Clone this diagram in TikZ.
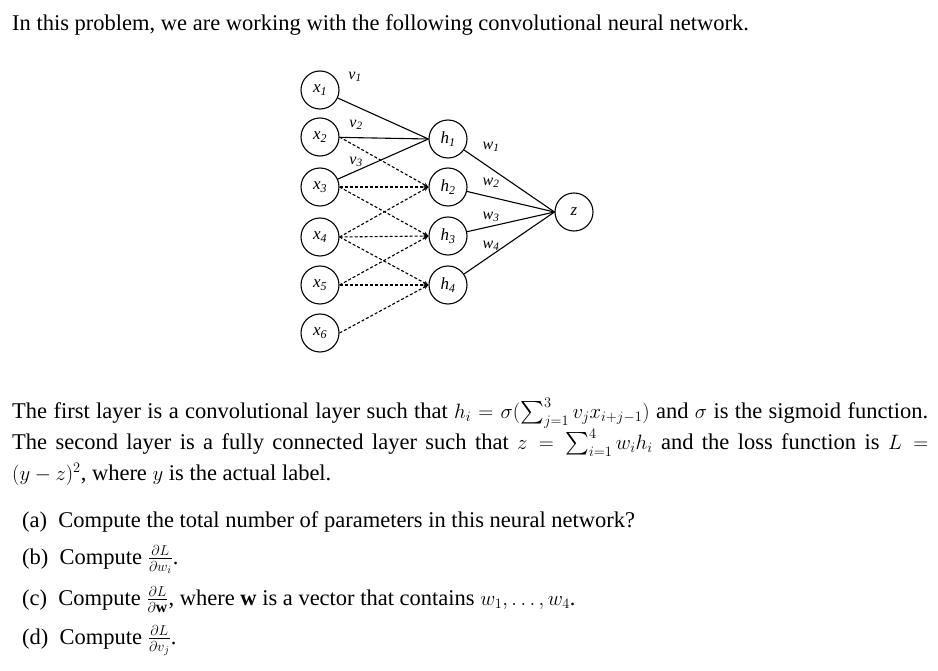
\documentclass[tikz,border=0pt]{standalone}
\usepackage{amsmath,amssymb}
\usepackage{fontspec}
\setmainfont{Liberation Serif}
\usetikzlibrary{arrows.meta}

\begin{document}
\begin{tikzpicture}[x=1pt,y=-1pt,>={Stealth[length=5pt,width=4pt]},
    unit/.style={circle,draw,line width=1.1pt,minimum size=38pt,inner sep=0pt,font=\fontsize{17}{17}\selectfont\itshape},
    wlab/.style={font=\fontsize{16}{16}\selectfont\itshape},
    conv/.style={->,line width=1.1pt,dash pattern=on 3pt off 2pt},
    line/.style={font=\fontsize{22.5}{27}\selectfont,anchor=base west,inner sep=0pt}]
        % frame
        \useasboundingbox (0,0) rectangle (938,671);
        % layers
        \foreach \i/\y in {1/90,2/137,3/187,4/237,5/285,6/333}
        \node[unit] (x\i) at (320,\y) {x\textsubscript{\i}};
        \foreach \i/\y in {1/139,2/187,3/236,4/285}
        \node[unit] (h\i) at (448,\y) {h\textsubscript{\i}};
        \node[unit] (z) at (574,212) {z};
        % first layer
        \foreach \j in {1,2,3} \draw[line width=1.1pt] (x\j) -- (h1.west);
        \foreach \i in {2,3,4} \foreach \j in {0,1,2}
        {\pgfmathtruncatemacro{\k}{\i+\j}
         \draw[conv] (x\k.east) -- (h\i.west);}
        % second layer
        \foreach \i in {1,2,3,4} \draw[line width=1.1pt] (h\i) -- (z.west);
        \draw   (355,77) node[wlab] {v\textsubscript{1}}
                (356,125) node[wlab] {v\textsubscript{2}}
                (356,162) node[wlab] {v\textsubscript{3}}
                (491,147) node[wlab] {w\textsubscript{1}}
                (491,183) node[wlab] {w\textsubscript{2}}
                (491,217) node[wlab] {w\textsubscript{3}}
                (491,246) node[wlab] {w\textsubscript{4}};
        % text
        \node[line] (intro) at (12,31) {In this problem, we are working with the following convolutional neural network.};
        \node[font=\fontsize{22.5}{31}\selectfont,anchor=north west,inner sep=0pt,text width=916pt,align=justify] (para) at (12,398)
          {The first layer is a convolutional layer such that $h_i=\sigma(\sum_{j=1}^{3}v_jx_{i+j-1})$ and $\sigma$ is the sigmoid function.\linebreak
           The second layer is a fully connected layer such that $z=\sum_{i=1}^{4}w_ih_i$ and the loss function is $L=$\linebreak
           $(y-z)^2$, where $y$ is the actual label.};
        \node[line] (qa) at (22,527) {(a)\enspace Compute the total number of parameters in this neural network?};
        \node[line] (qb) at (22,564) {(b)\enspace Compute $\frac{\partial L}{\partial w_i}$.};
        \node[line] (qc) at (22,605) {(c)\enspace Compute $\frac{\partial L}{\partial \mathbf{w}}$, where $\mathbf{w}$ is a vector that contains $w_1,\dots,w_4$.};
        \node[line] (qd) at (22,644) {(d)\enspace Compute $\frac{\partial L}{\partial v_j}$.};
\end{tikzpicture}
\end{document}
